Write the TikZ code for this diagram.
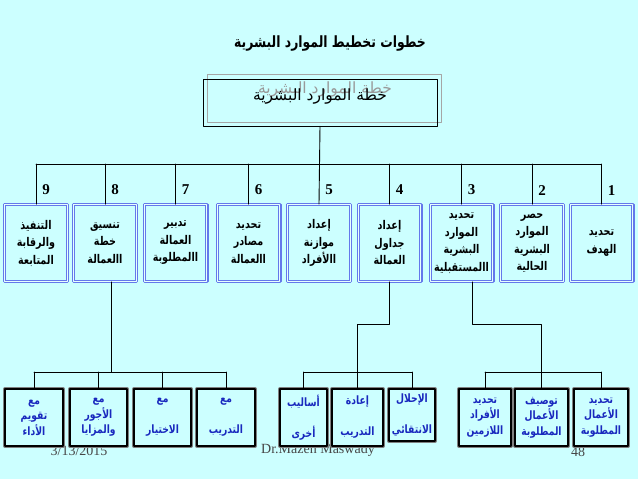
\documentclass[tikz,border=0pt]{standalone}
\usepackage{fontspec}
\setmainfont{Liberation Serif}
\newfontfamily\arabicfont[Script=Arabic]{DejaVu Sans}
\newfontfamily\arabicnarrow[Script=Arabic, FakeStretch=0.8]{DejaVu Sans}
\TeXXeTstate=1
\usetikzlibrary{calc}
\definecolor{bgcyan}{RGB}{204,255,255}
\definecolor{stepblue}{RGB}{100,120,235}
\definecolor{subblue}{RGB}{25,40,190}
\definecolor{footgray}{RGB}{70,70,70}
\newcommand{\artxt}[1]{\beginR #1\endR}
\tikzset{
  stepbox/.style={draw=stepblue, double=bgcyan!50!white, double distance=0.8pt,
    line width=1.3pt, fill=bgcyan, minimum width=62.6pt, minimum height=76.6pt,
    inner sep=1pt, align=center, font=\arabicnarrow\bfseries\fontsize{12}{17.5}\selectfont},
  subbox/.style={draw=black, line width=2.4pt, preaction={draw=gray, line width=4pt},
    fill=bgcyan, minimum height=57pt, inner sep=1pt, align=center, text=subblue,
    font=\arabicnarrow\bfseries\fontsize{11.5}{15.5}\selectfont},
  numlabel/.style={font=\bfseries\fontsize{15}{15}\selectfont},
  footer/.style={text=footgray, font=\fontsize{14}{14}\selectfont},
  link/.style={line width=0.9pt, black}
}
\begin{document}
\begin{tikzpicture}[x=1pt,y=-1pt,line cap=round,line join=round]
  \useasboundingbox (0,0) rectangle (638,479);
  \fill[bgcyan] (0,0) rectangle (638,479);

  \node[font=\arabicnarrow\bfseries\fontsize{15.5}{15.5}\selectfont] (heading) at (330,44)
    {\artxt{خطوات تخطيط الموارد البشرية}};

  \node[footer] (date) at (79,451) {3/13/2015};
  \node[footer] (author) at (318,450) {Dr.Mazen Maswady};
  \node[footer] (page) at (578,452) {48};

  \node[draw=gray!70, line width=0.8pt, minimum width=234pt, minimum height=48pt] (planshadow) at (324,98) {};
  \node[text=gray!80, font=\arabicfont\fontsize{15.5}{15.5}\selectfont] (planghost) at (325,90)
    {\artxt{خطة الموارد البشرية}};
  \node[font=\arabicfont\fontsize{15.5}{15.5}\selectfont] (plantext) at (320,97)
    {\artxt{خطة الموارد البشرية}};
  \node[draw=black, line width=0.8pt, minimum width=234pt, minimum height=47pt] (plan) at (320,102.5) {};

  \node[stepbox] (s1) at (601.5,243) {\artxt{تحديد}\\\artxt{الهدف}};
  \node[stepbox] (s2) at (532,243) {\artxt{حصر}\\\artxt{الموارد}\\\artxt{البشرية}\\\artxt{الحالية}};
  \node[stepbox] (s3) at (461.5,243) {\artxt{تحديد}\\\artxt{الموارد}\\\artxt{البشرية}\\\artxt{االمستقبلية}};
  \node[stepbox] (s4) at (389.5,243) {\artxt{إعداد}\\\artxt{جداول}\\\artxt{العمالة}};
  \node[stepbox] (s5) at (319,243) {\artxt{إعداد}\\\artxt{موازنة}\\\artxt{االأفراد}};
  \node[stepbox] (s6) at (248.5,243) {\artxt{تحديد}\\\artxt{مصادر}\\\artxt{االعمالة}};
  \node[stepbox] (s7) at (175.5,243) {\artxt{تدبير}\\\artxt{العمالة}\\\artxt{االمطلوبة}};
  \node[stepbox] (s8) at (105,243) {\artxt{تنسيق}\\\artxt{خطة}\\\artxt{االعمالة}};
  \node[stepbox] (s9) at (36,243) {\artxt{التنفيذ}\\\artxt{والرقابة}\\\artxt{المتابعة}};

  \foreach \i in {1,...,9} {
    \node[numlabel] (n\i) at ($(s\i.north)+(10,-14)$) {\i};
  }

  \node[subbox, minimum width=58pt] (t1) at (34,417.5) {\artxt{مع}\\\artxt{تقويم}\\\artxt{الأداء}};
  \node[subbox, minimum width=57pt] (t2) at (98.5,417.5) {\artxt{مع}\\\artxt{الأجور}\\\artxt{والمزايا}};
  \node[subbox, minimum width=57pt] (t3) at (162.5,417.5) {\artxt{مع}\\[15.5pt]\artxt{الاختيار}};
  \node[subbox, minimum width=58pt] (t4) at (226,417.5) {\artxt{مع}\\[15.5pt]\artxt{التدريب}};
  \node[subbox, minimum width=47pt] (t5) at (303.5,417.5) {\artxt{أساليب}\\[15.5pt]\artxt{أخرى}};
  \node[subbox, minimum width=51pt] (t6) at (357.5,417.5) {\artxt{إعادة}\\[15.5pt]\artxt{التدريب}};
  \node[subbox, minimum width=46pt, minimum height=52pt] (t7) at (412,415) {\artxt{الإحلال}\\[15.5pt]\artxt{الانتقائي}};
  \node[subbox, minimum width=52pt] (t8) at (485,417.5) {\artxt{تحديد}\\\artxt{الأفراد}\\\artxt{اللازمين}};
  \node[subbox, minimum width=53pt] (t9) at (541.5,417.5) {\artxt{توصيف}\\\artxt{الأعمال}\\\artxt{المطلوبة}};
  \node[subbox, minimum width=54pt] (t10) at (601,417.5) {\artxt{تحديد}\\\artxt{الأعمال}\\\artxt{المطلوبة}};

  \coordinate (upbar) at (0,164);
  \coordinate (knee) at (0,324);
  \coordinate (lowbar) at (0,372);
  \coordinate (k8) at ([xshift=6pt]s8.south);
  \coordinate (k3) at ([xshift=11pt]s3.south);

  \draw[link] (plan.south) -- (s5.north);
  \draw[link] (s9.north |- upbar) -- (s1.north |- upbar);
  \foreach \i in {1,2,3,4,6,7,8,9} {
    \draw[link] (s\i.north |- upbar) -- (s\i.north);
  }

  \draw[link] (k8) -- (k8 |- lowbar);
  \draw[link] (t1.north |- lowbar) -- (t4.north |- lowbar);
  \draw[link] (s4.south) -- (s4.south |- knee) -| (t6.north |- lowbar);
  \draw[link] (t5.north |- lowbar) -- (t7.north |- lowbar);
  \draw[link] (k3) -- (k3 |- knee) -| (t9.north |- lowbar);
  \draw[link] (t8.north |- lowbar) -- (t10.north |- lowbar);
  \foreach \i in {1,...,10} {
    \draw[link] (t\i.north |- lowbar) -- (t\i.north);
  }
\end{tikzpicture}
\end{document}
